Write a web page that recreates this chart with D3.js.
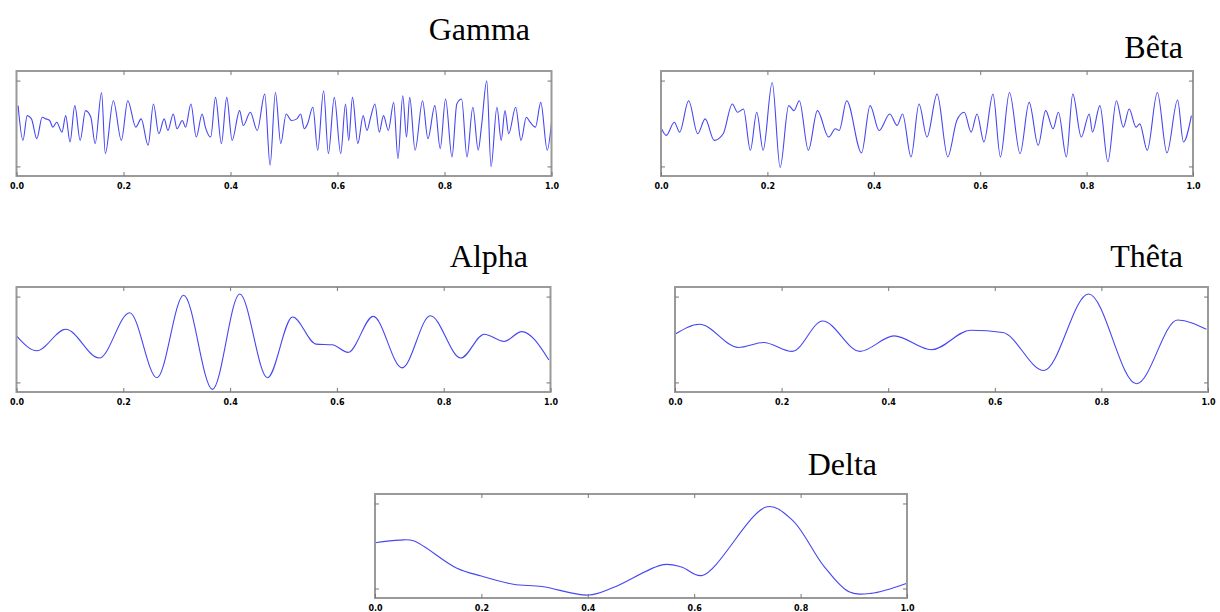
<!DOCTYPE html>
<html>
<head>
<meta charset="utf-8">
<script src="https://cdn.jsdelivr.net/npm/d3@7"></script>
<style>
  body { margin: 0; background: #fff; }
  .tick text { font-family: "DejaVu Sans", sans-serif; font-weight: bold; font-size: 8px; fill: #000; }
  .tick line { stroke: #777; }
  .title { font-family: "Liberation Serif", serif; font-size: 32px; fill: #000; }
</style>
</head>
<body>
<svg id="chart" width="1220" height="612"></svg>
<script>
// time in seconds (0..1), amplitude in arbitrary units
var gamma = [
  [0.003,54],[0.012,-51],[0.020,24],[0.028,14],[0.038,-46],[0.048,19],[0.055,14],[0.062,9],
  [0.068,-11],[0.075,4],[0.085,-26],[0.092,24],[0.100,-56],[0.109,54],[0.119,-51],[0.129,39],
  [0.139,19],[0.147,-61],[0.159,94],[0.166,-91],[0.181,69],[0.196,-51],[0.208,69],[0.223,-11],
  [0.233,14],[0.246,-66],[0.256,59],[0.266,-31],[0.276,14],[0.283,-21],[0.293,29],[0.300,-16],
  [0.310,9],[0.316,-11],[0.326,59],[0.336,-41],[0.347,29],[0.353,-11],[0.363,-41],[0.372,79],
  [0.383,-61],[0.393,79],[0.403,-51],[0.417,39],[0.424,-6],[0.437,34],[0.450,-21],[0.464,89],
  [0.474,-126],[0.484,94],[0.494,-61],[0.504,29],[0.514,9],[0.524,14],[0.531,29],[0.538,-16],
  [0.544,-1],[0.554,49],[0.563,-81],[0.574,99],[0.583,-91],[0.594,79],[0.606,-91],[0.615,59],
  [0.621,-51],[0.628,79],[0.638,-61],[0.648,24],[0.655,-21],[0.662,19],[0.670,59],[0.678,-26],
  [0.686,24],[0.695,-21],[0.705,64],[0.713,-106],[0.722,84],[0.729,-41],[0.735,79],[0.745,-81],
  [0.759,69],[0.769,-46],[0.782,54],[0.792,-76],[0.802,74],[0.814,-101],[0.823,59],[0.832,74],
  [0.842,-101],[0.853,49],[0.863,-81],[0.869,-11],[0.879,129],[0.887,-131],[0.898,49],[0.906,-51],
  [0.913,39],[0.920,-31],[0.933,49],[0.943,-51],[0.953,19],[0.960,4],[0.970,-11],[0.980,64],
  [0.992,-81],[1.000,4]
];
var beta = [
  [0.001,-16],[0.010,-36],[0.025,4],[0.035,-26],[0.052,69],[0.069,-31],[0.083,14],[0.100,-51],
  [0.117,-31],[0.134,59],[0.144,34],[0.155,44],[0.168,-81],[0.180,34],[0.192,-81],[0.209,124],
  [0.224,-133],[0.240,54],[0.250,39],[0.260,69],[0.277,-81],[0.294,39],[0.315,-41],[0.328,-16],
  [0.335,-21],[0.349,69],[0.377,-89],[0.393,54],[0.410,-21],[0.430,29],[0.444,-6],[0.454,29],
  [0.470,-101],[0.485,59],[0.500,-41],[0.519,89],[0.539,-101],[0.556,9],[0.570,34],[0.583,-26],
  [0.594,29],[0.607,-56],[0.624,89],[0.638,-101],[0.655,94],[0.675,-91],[0.692,64],[0.709,-66],
  [0.723,39],[0.737,-16],[0.747,34],[0.762,-101],[0.774,89],[0.790,-41],[0.805,29],[0.811,-26],
  [0.825,54],[0.840,-116],[0.856,69],[0.869,-11],[0.880,44],[0.893,-11],[0.900,-1],[0.914,-81],
  [0.933,94],[0.951,-89],[0.971,71],[0.982,-56],[0.997,24]
];
var alpha = [
  [0.000,11],[0.038,-34],[0.092,31],[0.155,-56],[0.212,81],[0.263,-116],[0.313,134],[0.367,-151],
  [0.418,138],[0.470,-116],[0.517,68],[0.561,-14],[0.591,-16],[0.621,-39],[0.668,70],[0.722,-86],
  [0.775,72],[0.832,-56],[0.876,16],[0.913,-6],[0.946,24],[0.997,-62]
];
var theta = [
  [0.000,16],[0.046,46],[0.119,-24],[0.166,-9],[0.220,-36],[0.277,56],[0.347,-36],[0.411,11],
  [0.481,-31],[0.555,28],[0.615,21],[0.692,-94],[0.776,138],[0.866,-134],[0.943,59],[0.997,31]
];
var delta = [
  [0.000,10],[0.046,18],[0.072,16],[0.153,-67],[0.200,-92],[0.260,-117],[0.314,-124],[0.401,-150],
  [0.448,-127],[0.542,-57],[0.576,-64],[0.615,-90],[0.737,120],[0.784,80],[0.844,-62],
  [0.891,-140],[0.932,-145],[1.000,-114]
];
var xTicks = [0, 0.2, 0.4, 0.6, 0.8, 1.0];

var svg = d3.select("#chart");

/*
 * one panel: frame, inward ticks, bottom labels, wave and title
 */
function drawPanel(data, name, left, top, w, h, titleX, titleY, curve) {
  var x = d3.scaleLinear().domain([0, 1]).range([left, left + w]);
  var y = d3.scaleLinear().domain([-159, 159]).range([top + h, top]);

  svg.append("path")
    .datum(data)
    .attr("fill", "none")
    .attr("stroke", "#4646f2")
    .attr("stroke-width", 1.1)
    .attr("d", d3.line().x(function(d){ return x(d[0]); }).y(function(d){ return y(d[1]); }).curve(curve));

  svg.append("rect")
    .attr("x", left).attr("y", top).attr("width", w).attr("height", h)
    .attr("fill", "none").attr("stroke", "#9a9a9a").attr("stroke-width", 2);

  svg.append("g").attr("transform", "translate(0," + (top + h) + ")")
    .call(d3.axisBottom(x).tickValues(xTicks).tickFormat(d3.format(".1f")).tickSize(-4).tickPadding(7))
    .call(function(g){ g.select(".domain").remove(); });
  svg.append("g").attr("transform", "translate(0," + top + ")")
    .call(d3.axisTop(x).tickValues(xTicks.slice(1, -1)).tickFormat("").tickSize(-4))
    .call(function(g){ g.select(".domain").remove(); });
  svg.append("g").attr("transform", "translate(" + left + ",0)")
    .call(d3.axisLeft(y).tickValues([-130, 130]).tickFormat("").tickSize(-4))
    .call(function(g){ g.select(".domain").remove(); });
  svg.append("g").attr("transform", "translate(" + (left + w) + ",0)")
    .call(d3.axisRight(y).tickValues([-130, 130]).tickFormat("").tickSize(-4))
    .call(function(g){ g.select(".domain").remove(); });

  svg.append("text").attr("class", "title")
    .attr("x", titleX).attr("y", titleY).attr("text-anchor", "end").text(name);
}

drawPanel(gamma, "Gamma", 16.5, 71, 535, 105, 530, 40, d3.curveMonotoneX);
drawPanel(beta, "Bêta", 661, 71, 532, 105, 1183, 58, d3.curveMonotoneX);
drawPanel(alpha, "Alpha", 16.5, 287, 534, 105, 528, 267, d3.curveMonotoneX);
drawPanel(theta, "Thêta", 675, 287, 533, 105, 1183, 267, d3.curveMonotoneX);
drawPanel(delta, "Delta", 375, 494, 532, 104, 877, 475, d3.curveCatmullRom);
</script>
</body>
</html>
